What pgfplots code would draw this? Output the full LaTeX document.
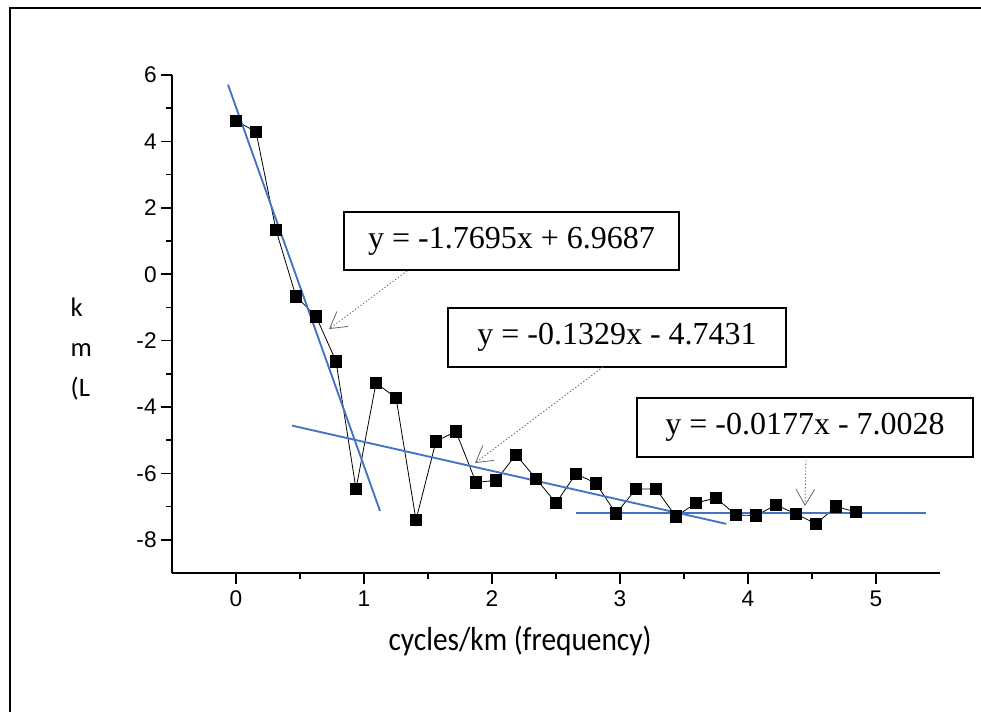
\documentclass[border=0pt]{standalone}
\usepackage{fontspec}
\setmainfont{Liberation Sans}
\newfontfamily\calibri{Carlito}
\newfontfamily\tnr{Liberation Serif}
\usepackage{pgfplots}
\pgfplotsset{compat=1.18}
\usetikzlibrary{arrows.meta}
\definecolor{fitblue}{RGB}{68,114,196}

\pgfplotstableread{
x y
0       4.62
0.15625 4.29
0.3125  1.33
0.46875 -0.67
0.625   -1.27
0.78125 -2.62
0.9375  -6.47
1.09375 -3.28
1.25    -3.72
1.40625 -7.40
1.5625  -5.03
1.71875 -4.74
1.875   -6.27
2.03125 -6.21
2.1875  -5.44
2.34375 -6.16
2.5     -6.89
2.65625 -6.01
2.8125  -6.30
2.96875 -7.21
3.125   -6.47
3.28125 -6.47
3.4375  -7.30
3.59375 -6.89
3.75    -6.74
3.90625 -7.25
4.0625  -7.27
4.21875 -6.95
4.375   -7.22
4.53125 -7.52
4.6875  -7.00
4.84375 -7.16
}\spectrum

\begin{document}
\begin{tikzpicture}[x=0.75pt,y=-0.75pt]
\useasboundingbox (0,0) rectangle (981,711);
% outer frame (left and top edges visible)
\draw[line width=1.5pt] (10,715) -- (10,8) -- (995,8);

\begin{axis}[
    at={(129pt,-429.75pt)}, anchor=south west,
    scale only axis,
    width=576pt, height=373.5pt,
    xmin=-0.5, xmax=5.5, ymin=-9, ymax=6,
    axis lines=left,
    axis line style={-, line width=1.3pt},
    xtick={0,1,2,3,4,5},
    ytick={-8,-6,-4,-2,0,2,4,6},
    minor x tick num=1, minor y tick num=1,
    tick align=outside,
    major tick length=8pt, minor tick length=4.5pt,
    every tick/.style={black, line width=1.2pt},
    tick label style={font=\fontsize{17}{19}\selectfont},
    xticklabel style={yshift=-2pt},
    /pgf/number format/assume math mode=true,
    clip=false,
]
\addplot[black, line width=0.6pt, mark=square*, mark size=4.3pt,
    mark options={solid, fill=black}] table {\spectrum};
\addplot[fitblue, line width=1.4pt] coordinates {(-0.0625,5.71) (1.125,-7.13)};
\addplot[fitblue, line width=1.4pt] coordinates {(0.4375,-4.56) (3.83,-7.52)};
\addplot[fitblue, line width=1.4pt] coordinates {(2.656,-7.19) (5.39,-7.19)};
\end{axis}

% axis labels
\node[font=\calibri\fontsize{25}{28}\selectfont, xscale=0.88] at (520,641) {cycles/km (frequency)};
\node[font=\calibri\fontsize{20}{22}\selectfont, anchor=base west] at (66,316) {k};
\node[font=\calibri\fontsize{20}{22}\selectfont, anchor=base west] at (66,356) {m};
\node[font=\calibri\fontsize{20}{22}\selectfont, anchor=base west] at (66,396) {(L};

% equation boxes
\tikzset{eqbox/.style={font=\tnr\fontsize{24}{28}\selectfont}}
\draw[line width=1.2pt, fill=white] (344,212) rectangle (679,270);
\node[eqbox] at (511.5,241) {y = -1.7695x + 6.9687};
\draw[line width=1.2pt, fill=white] (448,308) rectangle (786,367);
\node[eqbox] at (617,337.5) {y = -0.1329x - 4.7431};
\draw[line width=1.2pt, fill=white] (637,398) rectangle (973,457);
\node[eqbox] at (805,427.5) {y = -0.0177x - 7.0028};

% pointer arrows
\tikzset{ptr/.style={black!60, line width=0.6pt, dash pattern=on 1pt off 1.5pt,
    -{Straight Barb[length=12pt, width=14pt]}}}
\draw[ptr] (407,271) -- (329,329);
\draw[ptr] (603,367) -- (475,463);
\draw[ptr] (806,457) -- (805,506);
\end{tikzpicture}
\end{document}
